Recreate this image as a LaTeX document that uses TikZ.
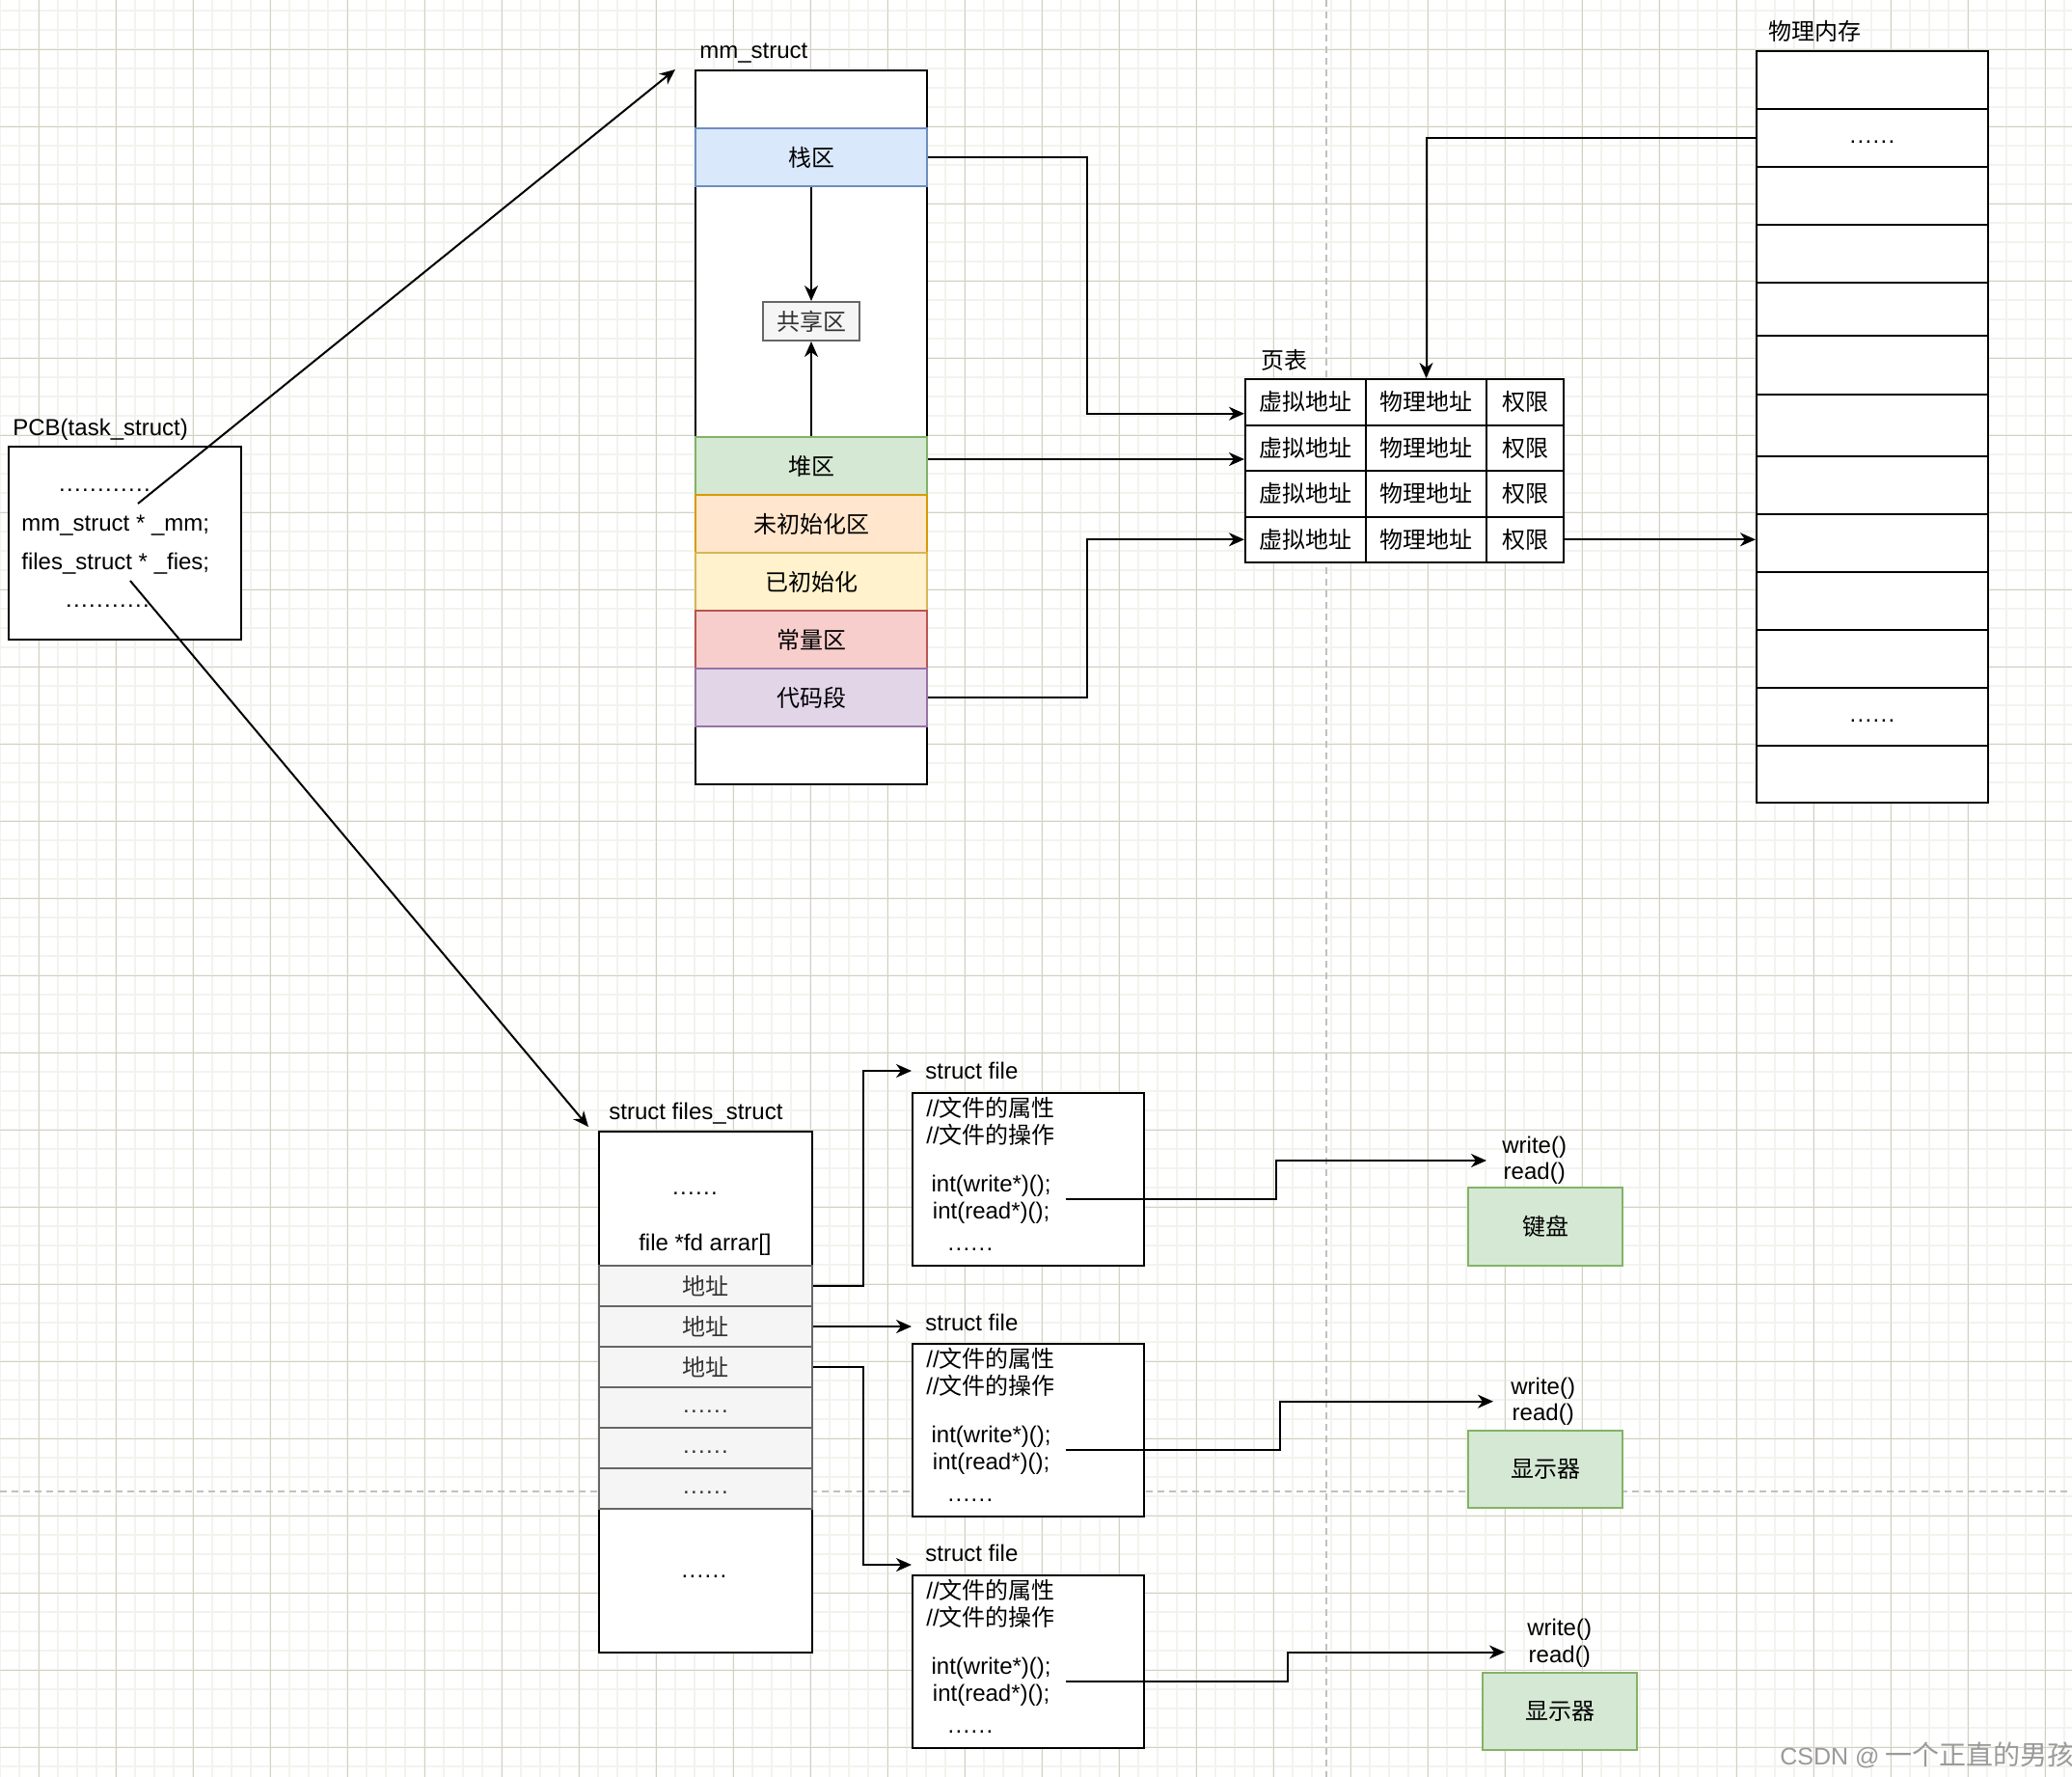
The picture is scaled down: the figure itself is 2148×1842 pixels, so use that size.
\documentclass[tikz,border=0pt]{standalone}
\usepackage{fontspec}
\setmainfont{Liberation Sans}
\newfontfamily\cjk{Noto Sans CJK SC}
\usetikzlibrary{arrows.meta}
\definecolor{gminor}{HTML}{F3F3EE}
\definecolor{gmajor}{HTML}{D3D0C3}
\definecolor{pageline}{HTML}{C0C0C0}
\definecolor{bluefill}{HTML}{DAE8FC}\definecolor{bluedraw}{HTML}{6C8EBF}
\definecolor{greenfill}{HTML}{D5E8D4}\definecolor{greendraw}{HTML}{82B366}
\definecolor{orangefill}{HTML}{FFE6CC}\definecolor{orangedraw}{HTML}{D79B00}
\definecolor{yellowfill}{HTML}{FFF2CC}\definecolor{yellowdraw}{HTML}{D6B656}
\definecolor{redfill}{HTML}{F8CECC}\definecolor{reddraw}{HTML}{B85450}
\definecolor{purplefill}{HTML}{E1D5E7}\definecolor{purpledraw}{HTML}{9673A6}
\definecolor{grayfill}{HTML}{F5F5F5}\definecolor{graydraw}{HTML}{666666}
\definecolor{graytext}{HTML}{333333}
\definecolor{wmgray}{HTML}{9A9A9A}
\newcommand\pd{\makebox[4pt][c]{.}}
\newcommand\sixdots{\pd\pd\pd\pd\pd\pd}
\tikzset{
  txtf/.style={font=\fontsize{12pt}{14pt}\selectfont},
  lbl/.style={txtf, inner sep=0pt},
  box/.style={txtf, draw, line width=1pt, fill=white, inner sep=0pt, anchor=north west},
  sec/.style={box, minimum width=120pt, minimum height=30pt},
  cell/.style={box, minimum height=23.75pt},
  fcell/.style={box, fill=grayfill, draw=graydraw, text=graytext, minimum width=110.5pt, minimum height=21pt},
  mrow/.style={box, minimum width=120pt},
  dev/.style={box, fill=greenfill, draw=greendraw, minimum width=80pt, minimum height=40pt},
  sfbox/.style={box, minimum width=120pt, minimum height=89.5pt},
  arr/.style={draw, line width=1pt, -{Stealth[length=8pt,width=7pt,inset=2.5pt]}},
  wrl/.style={lbl, anchor=west, align=center, font=\fontsize{12pt}{13.75pt}\selectfont}
}
\begin{document}
\begin{tikzpicture}[x=0.5pt,y=-0.5pt]
\useasboundingbox (0,0) rectangle (2148,1842);
\fill[white] (0,0) rectangle (2148,1842);
% grid
\foreach \x in {0,20,...,2140} \draw[gminor, line width=1pt] (\x,0) -- (\x,1842);
\foreach \y in {11,31,...,1831} \draw[gminor, line width=1pt] (0,\y) -- (2148,\y);
\foreach \x in {40,120,...,2120} \draw[gmajor, line width=0.5pt] (\x,0) -- (\x,1842);
\foreach \y in {51,131,...,1811} \draw[gmajor, line width=0.5pt] (0,\y) -- (2148,\y);
% page breaks
\draw[pageline, line width=1pt, dash pattern=on 3.6pt off 2.4pt] (1375,0) -- (1375,1842);
\draw[pageline, line width=1pt, dash pattern=on 3.6pt off 2.4pt] (0,1546) -- (2148,1546);

% PCB
\node[lbl, anchor=base west] (pcbl) at (13,451.5) {PCB(task\_struct)};
\node[box, minimum width=120.5pt, minimum height=100pt] (pcb) at (8,462) {};
\node[lbl, anchor=base west] (pcbt1) at (60,509.5) {\pd\pd\pd\pd\pd\pd\pd\pd\pd\pd\pd\pd};
\node[lbl, anchor=base west] (pcbt2) at (22,550.5) {mm\_struct * \_mm;};
\node[lbl, anchor=base west] (pcbt3) at (22,590.5) {files\_struct * \_fies;};
\node[lbl, anchor=base west] (pcbt4) at (67,629.5) {\pd\pd\pd\pd\pd\pd\pd\pd\pd\pd\pd};

% mm_struct
\node[lbl, anchor=base west] (mml) at (725,60.5) {mm\_struct};
\node[box, minimum width=120pt, minimum height=370pt] (mm) at (720,72) {};
\node[sec, fill=bluefill, draw=bluedraw] (stack) at (720,132) {{\cjk 栈区}};
\node[box, fill=grayfill, draw=graydraw, text=graytext, minimum width=50pt, minimum height=20pt] (share) at (790,312) {{\cjk 共享区}};
\node[sec, fill=greenfill, draw=greendraw] (heap) at (720,452) {{\cjk 堆区}};
\node[sec, fill=orangefill, draw=orangedraw] (uninit) at (720,512) {{\cjk 未初始化区}};
\node[sec, fill=yellowfill, draw=yellowdraw] (init) at (720,572) {{\cjk 已初始化}};
\node[sec, fill=redfill, draw=reddraw] (const) at (720,632) {{\cjk 常量区}};
\node[sec, fill=purplefill, draw=purpledraw] (code) at (720,692) {{\cjk 代码段}};

% page table
\node[lbl, anchor=west] (ptl) at (1307,373) {{\cjk 页表}};
\foreach \r/\y in {1/392,2/439.5,3/487,4/534.5} {
  \node[cell, minimum width=62.5pt] (v\r) at (1290,\y) {{\cjk 虚拟地址}};
  \node[cell, minimum width=62.5pt] (p\r) at (1415,\y) {{\cjk 物理地址}};
  \node[cell, minimum width=40pt] (q\r) at (1540,\y) {{\cjk 权限}};
}

% physical memory
\node[lbl, anchor=west] (meml) at (1833,32) {{\cjk 物理内存}};
\foreach \i/\a/\b in {1/52/112,2/112/172,3/172/232,4/232/292,5/292/347,6/347/408,7/408/472,8/472/532,9/532/592,10/592/652,11/652/712,12/712/772,13/772/831}
  \node[mrow, minimum height={(\b-\a)*0.5pt}] (m\i) at (1820,\a) {};
\node[lbl] (md1) at (m2.center) {\vphantom{Ay}\sixdots};
\node[lbl] (md2) at (m12.center) {\vphantom{Ay}\sixdots};

% files_struct
\node[lbl, anchor=base west] (fsl) at (631,1160) {struct files\_struct};
\node[box, minimum width=110.5pt, minimum height=270pt] (fs) at (620,1172) {};
\node[lbl] (fsd1) at (720.5,1237) {\sixdots};
\node[lbl] (fsfd) at (731,1290.5) {file *fd arrar[]};
\foreach \i/\y/\t in {1/1311/{{\cjk 地址}},2/1353/{{\cjk 地址}},3/1395/{{\cjk 地址}},4/1437/{\vphantom{Ay}\sixdots},5/1479/{\vphantom{Ay}\sixdots},6/1521/{\vphantom{Ay}\sixdots}}
  \node[fcell] (c\i) at (620,\y) {\t};
\node[lbl] (fsd2) at (730,1634) {\sixdots};

% struct file boxes
\foreach \i/\y in {1/1132,2/1392,3/1632} {
  \node[sfbox] (sf\i) at (945,\y) {};
  \node[lbl, anchor=west, align=left] (cm\i) at (960,\y+30) {//{\cjk 文件的属性}\\//{\cjk 文件的操作}};
  \node[lbl, anchor=east, align=center, inner xsep=7.5pt] (fn\i) at (1105,\y+111) {int(write*)();\\int(read*)();};
  \node[lbl] (fd\i) at (1006,\y+163) {\sixdots};
}
\node[lbl, anchor=west, inner xsep=7pt] (sl1) at (945,1110) {struct file};
\node[lbl, anchor=west, inner xsep=7pt] (sl2) at (945,1371) {struct file};
\node[lbl, anchor=west, inner xsep=7pt] (sl3) at (945,1610) {struct file};

% devices
\node[wrl, inner xsep=8pt] (wr1) at (1541,1203) {write()\\read()};
\node[wrl, inner xsep=9pt] (wr2) at (1548,1452.7) {write()\\read()};
\node[wrl, inner xsep=11.5pt] (wr3) at (1560,1703.5) {write()\\read()};
\node[dev, minimum height=40.5pt] (kb) at (1521,1230) {{\cjk 键盘}};
\node[dev] (disp1) at (1521,1482) {{\cjk 显示器}};
\node[dev] (disp2) at (1536,1733) {{\cjk 显示器}};

% watermark
\node[lbl, anchor=west, text=wmgray, font=\fontsize{12.5pt}{16pt}\selectfont] (wm) at (1845,1819) {CSDN @\hspace{3pt}{\fontsize{14pt}{16pt}\selectfont\cjk 一个正直的男孩}};

% connectors
\coordinate (pcbA) at (143,522);
\coordinate (mmA) at (700,72);
\coordinate (pcbB) at (135,602);
\coordinate (fsA) at (610,1168);
\draw[arr] (pcbA) -- (mmA);
\draw[arr] (pcbB) -- (fsA);
\draw[arr] (stack.south) -- (share.north);
\draw[arr] (heap.north) -- (share.south);
\draw[arr] (stack.east) -- ++(82.5pt,0) |- ([yshift=-6pt]v1.west);
\draw[arr] ([yshift=3.5pt]heap.east) -- ([yshift=3.5pt]heap.east -| v2.west);
\draw[arr] (code.east) -- ++(82.5pt,0) |- (v4.west);
\draw[arr] (m2.west) -| (p1.north);
\draw[arr] (q4.east) -- (q4.east -| m9.west);
\draw[arr] (c1.east) -- ++(26pt,0) |- (sl1.west);
\draw[arr] (c2.east) -- (c2.east -| sl2.west);
\draw[arr] (c3.east) -- ++(26pt,0) |- ([yshift=-6pt]sl3.west);
\draw[arr] (fn1.east) -- ++(109pt,0) |- (wr1.west);
\draw[arr] (fn2.east) -- ++(111pt,0) |- (wr2.west);
\draw[arr] (fn3.east) -- ++(115pt,0) |- ([yshift=-4.5pt]wr3.west);
\end{tikzpicture}
\end{document}
